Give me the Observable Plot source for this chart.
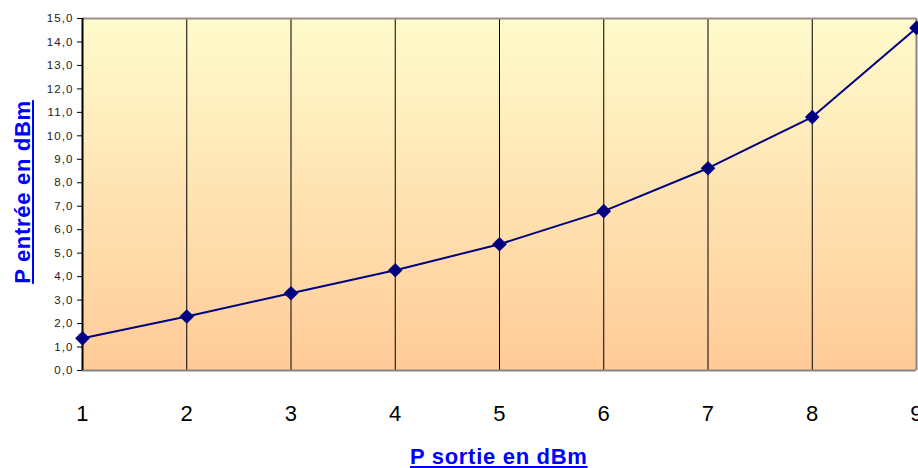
<!DOCTYPE html>
<html>
<head>
<meta charset="utf-8">
<script src="https://cdn.jsdelivr.net/npm/d3@7"></script>
<script src="https://cdn.jsdelivr.net/npm/@observablehq/plot@0.6"></script>
<style>
  html, body { margin: 0; padding: 0; background: #fff; overflow: hidden; }
  #wrap { position: relative; width: 918px; height: 468px; font-family: Arial, "Liberation Sans", sans-serif; }
  .title { position: absolute; color: #0000ff; font-weight: bold; font-size: 22px; text-decoration: underline; white-space: nowrap; letter-spacing: 0.7px; line-height: 1; }
  #xtitle { left: 410px; top: 446px; }
  #ytitle { left: 12px; top: 192px; transform-origin: 0 0; transform: rotate(-90deg) translate(-50%, 0); }
  g[aria-label="y-axis tick label"] { letter-spacing: 1.1px; }
  g[aria-label="x-axis tick label"] { letter-spacing: 0.5px; }
</style>
</head>
<body>
<div id="wrap">
  <div id="chart"></div>
  <div class="title" id="xtitle">P sortie en dBm</div>
  <div class="title" id="ytitle">P entrée en dBm</div>
</div>
<script>
const categories = [1, 2, 3, 4, 5, 6, 7, 8, 9];
const values = [1.37, 2.3, 3.29, 4.27, 5.38, 6.79, 8.62, 10.8, 14.6];
const yTicks = [0, 1, 2, 3, 4, 5, 6, 7, 8, 9, 10, 11, 12, 13, 14, 15];

const data = categories.map((c, i) => ({x: c, y: values[i]}));
const inner = categories.slice(1, -1);

const plot = Plot.plot({
  width: 918,
  height: 468,
  marginLeft: 82,
  marginRight: 2,
  marginTop: 18,
  marginBottom: 98,
  style: {fontFamily: "Arial, 'Liberation Sans', sans-serif", background: "transparent", overflow: "hidden"},
  x: {domain: [1, 9], type: "linear"},
  y: {domain: [0, 15]},
  marks: [
    Plot.frame({fill: "url(#bgGrad)", stroke: "none"}),
    Plot.ruleX(inner, {stroke: "#000", strokeWidth: 1}),
    Plot.ruleY([15], {stroke: "#a08c8c", strokeWidth: 2}),
    Plot.ruleY([0], {stroke: "#858585", strokeWidth: 2}),
    Plot.ruleX([9], {stroke: "#858585", strokeWidth: 2}),
    Plot.ruleX([1], {stroke: "#000", strokeWidth: 2}),
    Plot.axisY({ticks: yTicks, tickFormat: d => d.toFixed(1).replace(".", ","), tickSize: 5, tickPadding: 4, fontSize: 11.5, color: "#1a1a1a", stroke: "#000", label: null}),
    Plot.axisX({ticks: categories, tickFormat: d => String(d), tickSize: 0, tickPadding: 35, fontSize: 22, color: "#000", label: null}),
    Plot.line(data, {x: "x", y: "y", stroke: "#000080", strokeWidth: 2}),
    Plot.dot(data, {x: "x", y: "y", symbol: "diamond2", r: 6.6, fill: "#000080", stroke: "none"})
  ]
});

const ns = "http://www.w3.org/2000/svg";
const defs = document.createElementNS(ns, "defs");
const grad = document.createElementNS(ns, "linearGradient");
grad.setAttribute("id", "bgGrad");
grad.setAttribute("x1", "0"); grad.setAttribute("y1", "0");
grad.setAttribute("x2", "0"); grad.setAttribute("y2", "1");
[["0%", "#fffbcc"], ["100%", "#ffcb98"]].forEach(([o, c]) => {
  const s = document.createElementNS(ns, "stop");
  s.setAttribute("offset", o);
  s.setAttribute("stop-color", c);
  grad.appendChild(s);
});
defs.appendChild(grad);
plot.insertBefore(defs, plot.firstChild);
document.getElementById("chart").appendChild(plot);
</script>
</body>
</html>
